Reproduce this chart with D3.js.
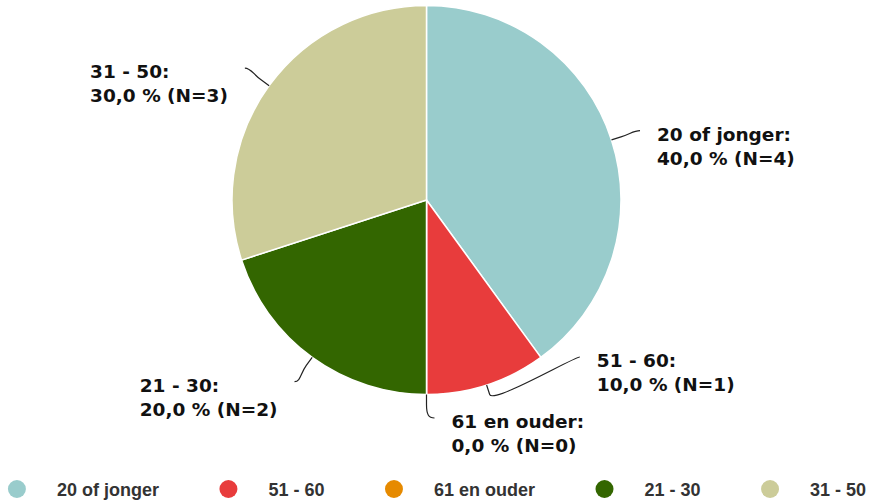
<!DOCTYPE html>
<html>
<head>
<meta charset="utf-8">
<script src="https://cdn.jsdelivr.net/npm/d3@7"></script>
<style>
  body { margin: 0; background: #fff; }
  svg { display: block; }
</style>
</head>
<body>
<div id="pie"></div>
<script>
// chart values
const categories = ["20 of jonger", "51 - 60", "61 en ouder", "21 - 30", "31 - 50"];
const counts = [4, 1, 0, 2, 3];
const percents = [40.0, 10.0, 0.0, 20.0, 30.0];
const colors = ["#99cccc", "#e83c3c", "#e68a00", "#336600", "#cccc99"];

const data = categories.map((c, i) => ({cat: c, n: counts[i], pct: percents[i], color: colors[i]}));

/* Set the dimensions */
const width = 873, height = 504;
const cx = 426.5, cy = 200, radius = 194.5;
const labelDist = 30;           // distance of the connector end from the pie edge
const labelSpacing = 61;        // minimum vertical spacing between labels on a side
const plotBottom = 456;

const svg = d3.select("#pie")
  .append("svg")
    .attr("width", width)
    .attr("height", height);

const pie = d3.pie().sort(null).value(d => d.n);
const arcs = pie(data);

const arc = d3.arc().innerRadius(0).outerRadius(radius);

const g = svg.append("g").attr("transform", `translate(${cx},${cy})`);

g.selectAll("path.slice")
  .data(arcs)
  .join("path")
    .attr("class", "slice")
    .attr("d", arc)
    .style("fill", d => d.data.color)
    .style("stroke", "#fff")
    .style("stroke-width", 1.5)
    .style("stroke-linejoin", "round");

/* label positions: start radial, then push apart on each side */
const R = radius + labelDist;
const labels = arcs.map(d => {
  const a = (d.startAngle + d.endAngle) / 2;
  return {
    d: d, a: a,
    side: a <= Math.PI ? 1 : -1,
    x: R * Math.sin(a),
    y: -R * Math.cos(a),
    y0: -R * Math.cos(a)
  };
});

const maxY = plotBottom - 38 - cy;
[1, -1].forEach(side => {
  const ls = labels.filter(l => l.side === side).sort((a, b) => a.y - b.y);
  for (let i = ls.length - 1; i >= 0; i--) {
    if (i === ls.length - 1) ls[i].y = Math.min(ls[i].y, maxY);
    else ls[i].y = Math.min(ls[i].y, ls[i + 1].y - labelSpacing);
  }
});
labels.forEach(l => {
  if (Math.abs(l.y - l.y0) > 0.5) {
    const dy = l.y + 7;
    l.x = l.side * Math.max(8, Math.sqrt(Math.max(0, R * R - dy * dy)));
  }
});

/* connectors: soft curve from the label, break point, then straight to the slice */
g.selectAll("path.conn")
  .data(labels)
  .join("path")
    .attr("class", "conn")
    .attr("d", l => {
      const tx = radius * Math.sin(l.a), ty = -radius * Math.cos(l.a);
      const bx = (radius + 10) * Math.sin(l.a), by = -(radius + 10) * Math.cos(l.a);
      const kx = 2 * bx - tx, ky = 2 * by - ty;
      return `M${l.x},${l.y}C${l.x - l.side * 6},${l.y} ${kx},${ky} ${bx},${by}L${tx},${ty}`;
    })
    .style("fill", "none")
    .style("stroke", "#222")
    .style("stroke-width", 1.2);

/* label text */
const fmt = v => v.toFixed(1).replace(".", ",");
const texts = g.selectAll("text.label")
  .data(labels)
  .join("text")
    .attr("class", "label")
    .attr("y", l => l.y + 10)
    .style("font-family", "'DejaVu Sans', Verdana, sans-serif")
    .style("font-weight", "bold")
    .style("font-size", "18.5px")
    .style("fill", "#111");

texts.append("tspan")
  .attr("class", "l1")
  .attr("x", 0)
  .text(l => l.d.data.cat + ":");
texts.append("tspan")
  .attr("class", "l2")
  .attr("x", 0)
  .attr("dy", 24)
  .text(l => `${fmt(l.d.data.pct)} % (N=${l.d.data.n})`);

texts.each(function(l) {
  const t = d3.select(this);
  const w = this.getBBox().width;
  const x0 = l.side > 0 ? l.x + 17 : l.x - 17 - w;
  t.selectAll("tspan").attr("x", x0);
});

/* legend */
const legend = svg.append("g");
let lx = 0;
const items = legend.selectAll("g.item")
  .data(data)
  .join("g")
    .attr("class", "item");

items.append("circle")
  .attr("r", 9)
  .attr("cy", 489)
  .style("fill", d => d.color);

items.append("text")
  .attr("y", 496)
  .style("font-family", "'Liberation Sans', Arial, sans-serif")
  .style("font-weight", "bold")
  .style("font-size", "18px")
  .style("fill", "#333")
  .text(d => d.cat);

items.each(function() {
  const it = d3.select(this);
  it.select("circle").attr("cx", lx);
  const tx = lx + 40;
  it.select("text").attr("x", tx);
  lx = tx + it.select("text").node().getComputedTextLength() + 69.5;
});
const bb = legend.node().getBBox();
legend.attr("transform", `translate(${437 - (bb.x + bb.width / 2)},0)`);
</script>
</body>
</html>
